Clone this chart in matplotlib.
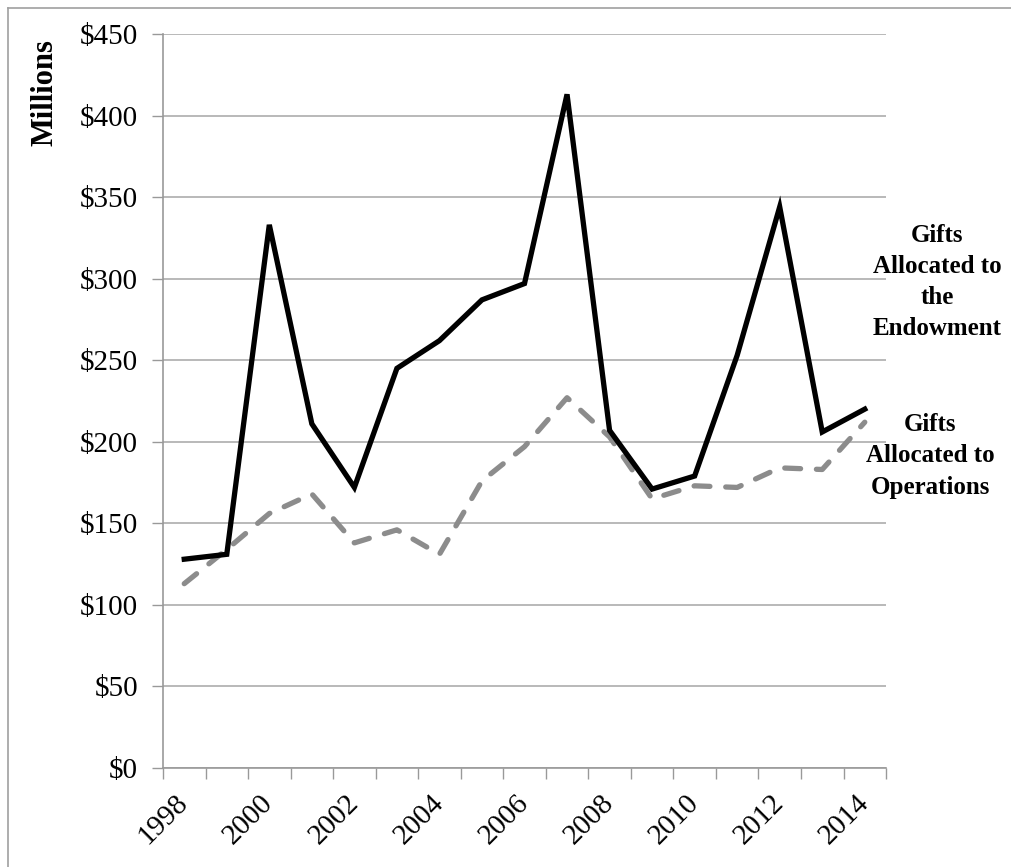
import matplotlib.pyplot as plt
from matplotlib.lines import Line2D
import numpy as np

# --- data (millions of dollars) ---
years = list(range(1998, 2015))
endowment = [128, 131, 333, 211, 172, 245, 262, 287, 297, 413, 207, 171, 179, 253, 344, 206, 220]
operations = [113, 134, 156, 168, 138, 146, 131, 176, 197, 227, 203, 165, 173, 172, 184, 183, 212]
yticks = [0, 50, 100, 150, 200, 250, 300, 350, 400, 450]
label_years = [1998, 2000, 2002, 2004, 2006, 2008, 2010, 2012, 2014]

plt.rcParams['font.family'] = ['Liberation Serif', 'DejaVu Serif']

fig = plt.figure(figsize=(10.11, 8.67), dpi=100)
ax = fig.add_axes([0.1612, 0.1142, 0.7152, 0.8466])

# frame of the original figure box (only top and left visible)
fx, fy = 8 / 1011, 1 - 8 / 867
fig.lines.append(Line2D([fx, 1.0], [fy, fy], transform=fig.transFigure,
                        color='#a0a0a0', linewidth=1.2))
fig.lines.append(Line2D([fx, fx], [0.0, fy], transform=fig.transFigure,
                        color='#a0a0a0', linewidth=1.2))

x = np.arange(len(years))
ax.plot(x, operations, color='#8c8c8c', linewidth=3.8, linestyle=(0, (3, 3)),
        dash_capstyle='round', zorder=3)
ax.plot(x, endowment, color='black', linewidth=3.8, solid_joinstyle='miter', zorder=4)

ax.set_xlim(-0.5, len(years) - 0.5)
ax.set_ylim(0, 450)

# y axis
ax.set_yticks(yticks)
ax.set_yticklabels(['$' + str(v) for v in yticks], fontsize=21)
ax.yaxis.grid(True, color='#b3b3b3', linewidth=1.3)
ax.set_axisbelow(True)
ax.tick_params(axis='y', length=8, width=1, color='#999999', pad=10)

# x axis: ticks between categories, labels on every other year
ax.set_xticks(np.arange(-0.5, len(years)), minor=True)
ax.set_xticks([years.index(y) for y in label_years])
ax.set_xticklabels([str(y) for y in label_years], fontsize=21, rotation=45,
                   ha='right', va='center', rotation_mode='anchor')
ax.tick_params(axis='x', which='minor', length=8, width=1, color='#999999')
ax.tick_params(axis='x', which='major', length=0, pad=22)

for side in ['top', 'right']:
    ax.spines[side].set_visible(False)
for side in ['left', 'bottom']:
    ax.spines[side].set_color('#999999')
    ax.spines[side].set_linewidth(1.2)

ax.text(-0.163, 0.92, 'Millions', transform=ax.transAxes, rotation=90,
        ha='center', va='center', fontsize=22, fontweight='bold')

# series labels
fig.text(937 / 1011, 1 - 282 / 867, 'Gifts\nAllocated to\nthe\nEndowment',
         ha='center', va='center', fontsize=18, fontweight='bold', linespacing=1.45)
fig.text(930 / 1011, 1 - 456 / 867, 'Gifts\nAllocated to\nOperations',
         ha='center', va='center', fontsize=18, fontweight='bold', linespacing=1.45)

fig.savefig('out.png', dpi=100)
